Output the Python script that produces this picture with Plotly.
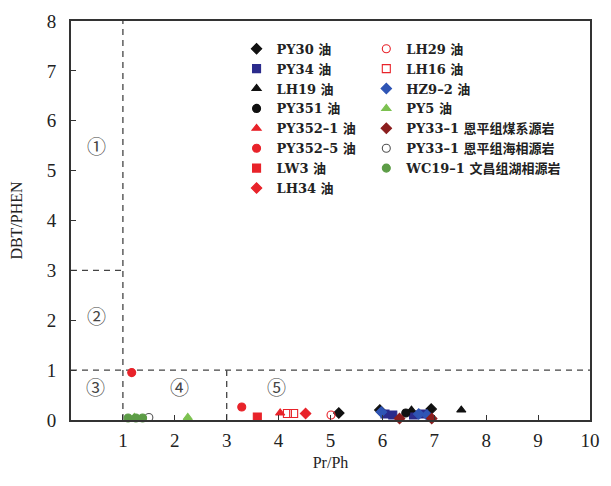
import plotly.graph_objects as go

# Pr/Ph vs DBT/PHEN for oils and source rocks
series_names = [
    "PY30 油", "PY34 油", "LH19 油", "PY351 油", "PY352–1 油", "PY352–5 油",
    "LW3 油", "LH34 油",
    "LH29 油", "LH16 油", "HZ9–2 油", "PY5 油",
    "PY33–1 恩平组煤系源岩", "PY33–1 恩平组海相源岩", "WC19–1 文昌组湖相源岩",
]
pr_ph = [
    [5.16, 5.95, 6.94],
    [6.05, 6.2, 6.6, 6.78],
    [6.56, 7.52],
    [6.45],
    [4.03],
    [1.17, 3.29],
    [3.59],
    [4.52],
    [5.01],
    [4.17, 4.29],
    [5.98, 6.7, 6.86],
    [1.22, 2.25],
    [6.33, 6.95],
    [1.5],
    [1.1, 1.25, 1.38],
]
dbt_phen = [
    [0.14, 0.2, 0.22],
    [0.12, 0.1, 0.1, 0.12],
    [0.2, 0.2],
    [0.14],
    [0.14],
    [0.95, 0.26],
    [0.06],
    [0.13],
    [0.1],
    [0.13, 0.13],
    [0.16, 0.12, 0.1],
    [0.05, 0.05],
    [0.03, 0.03],
    [0.05],
    [0.04, 0.04, 0.04],
]
symbols = [
    "diamond", "square", "triangle-up", "circle", "triangle-up", "circle",
    "square", "diamond", "circle-open", "square-open", "diamond", "triangle-up",
    "diamond", "circle-open", "circle",
]
colors = [
    "#111111", "#2b2b8c", "#111111", "#111111", "#e8232a", "#e8232a",
    "#e8232a", "#e8232a", "#e8232a", "#e8232a", "#2f55b5", "#7cc150",
    "#8b1e1e", "#555555", "#5c9c46",
]
legend_of = ["legend"] * 8 + ["legend2"] * 7

# region boundaries (x0, y0, x1, y1)
boundaries = [(1, 0, 1, 8), (0, 3, 1, 3), (0, 1, 10, 1), (3, 0, 3, 1)]
region_labels = ["①", "②", "③", "④", "⑤"]
region_x = [0.5, 0.5, 0.48, 2.1, 3.95]
region_y = [5.5, 2.1, 0.67, 0.67, 0.67]

serif = "Liberation Serif, Times New Roman, Noto Sans CJK SC, serif"

fig = go.Figure()
for name, xs, ys, sym, col, lg in zip(series_names, pr_ph, dbt_phen, symbols, colors, legend_of):
    fig.add_trace(go.Scatter(
        x=xs, y=ys, mode="markers", name=name, legend=lg, cliponaxis=False,
        marker=dict(symbol=sym, size=8, color=col, line=dict(width=1.1, color=col)),
    ))

for x0, y0, x1, y1 in boundaries:
    fig.add_shape(type="line", x0=x0, y0=y0, x1=x1, y1=y1, xref="x", yref="y",
                  line=dict(color="#444444", width=1.3, dash="6px,5px"), layer="below")

for lab, lx, ly in zip(region_labels, region_x, region_y):
    fig.add_annotation(x=lx, y=ly, text=lab, showarrow=False,
                       font=dict(family="Noto Sans CJK SC", size=19, color="#444444"))

legend_font = dict(family="DejaVu Serif, Noto Sans CJK SC, serif", size=13,
                   color="#222222", weight="bold")
fig.update_layout(
    width=611, height=486,
    margin=dict(l=71, r=11, t=17, b=66),
    paper_bgcolor="white", plot_bgcolor="white",
    font=dict(family=serif, color="#222222"),
    legend=dict(x=0.319, y=0.968, xanchor="left", yanchor="top", bgcolor="rgba(0,0,0,0)",
                font=legend_font, tracegroupgap=0),
    legend2=dict(x=0.569, y=0.968, xanchor="left", yanchor="top", bgcolor="rgba(0,0,0,0)",
                 font=legend_font, tracegroupgap=0),
    xaxis=dict(range=[0, 10], tickvals=list(range(1, 11)), showgrid=False, zeroline=False,
               showline=True, mirror=True, linecolor="#333333", linewidth=2,
               ticks="inside", ticklen=5, tickwidth=1.3, tickcolor="#333333",
               tickfont=dict(size=19, family=serif), ticklabelstandoff=2,
               title=dict(text="Pr/Ph", font=dict(size=16, family=serif), standoff=7)),
    yaxis=dict(range=[0, 8], tickvals=list(range(0, 9)), showgrid=False, zeroline=False,
               showline=True, mirror=True, linecolor="#333333", linewidth=2,
               ticks="inside", ticklen=5, tickwidth=1.3, tickcolor="#333333",
               tickfont=dict(size=19, family=serif), ticklabelstandoff=9,
               title=dict(text="DBT/PHEN", font=dict(size=16, family=serif), standoff=20)),
)

fig.write_html("out.html")
